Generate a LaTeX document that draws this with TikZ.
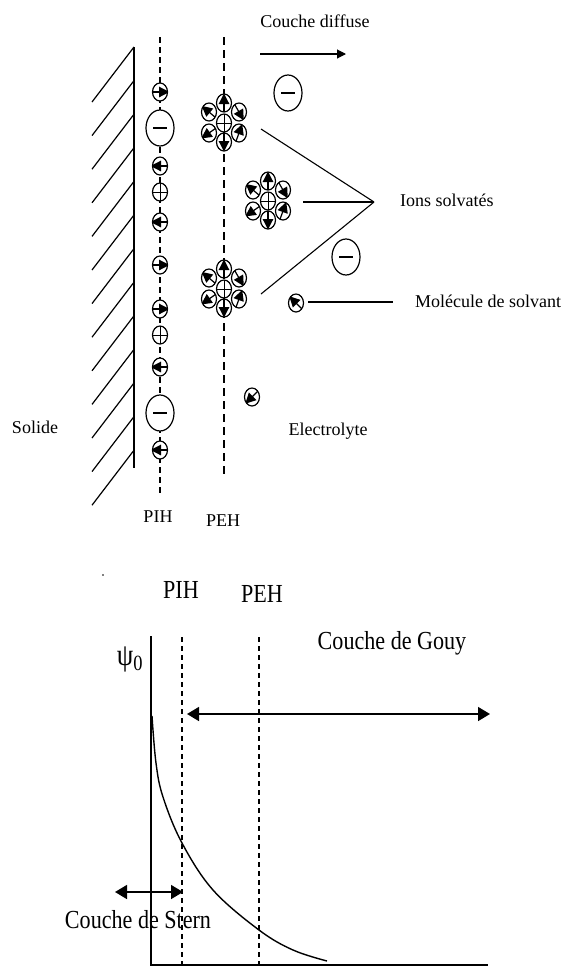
\documentclass[tikz,border=0pt]{standalone}
\usepackage{fontspec}
\setmainfont{Liberation Serif}
\usetikzlibrary{arrows.meta,shapes.geometric}

\tikzset{
  particle/.style={ellipse, draw, fill=white, line width=1.2pt, inner sep=0pt,
                   minimum width=15pt, minimum height=18pt},
  % a solvent dipole: shaft plus a filled head pointing at angle #1 (counter-clockwise on the page)
  dipole/.style={particle, path picture={
      \pgfmathsetmacro\dca{cos(#1)}
      \pgfmathsetmacro\dsa{sin(#1)}
      \begin{scope}[shift={(path picture bounding box.center)}]
        \draw[black, line width=1.2pt] ({-9*\dca},{9*\dsa}) -- (0,0);
        \fill[black] ({9.5*\dca},{-9.5*\dsa})
          -- ({-\dca-5.4*\dsa},{\dsa-5.4*\dca})
          -- ({-\dca+5.4*\dsa},{\dsa+5.4*\dca}) -- cycle;
      \end{scope}}},
  cation/.style={particle, path picture={
      \draw[black, line width=0.9pt]
        (path picture bounding box.north) -- (path picture bounding box.south)
        (path picture bounding box.west) -- (path picture bounding box.east);}},
  anion/.style={particle, minimum width=28pt, minimum height=36pt, path picture={
      \draw[black, line width=1.2pt] ([xshift=-7pt]path picture bounding box.center)
        -- ([xshift=7pt]path picture bounding box.center);}},
  cluster/.pic={
    \node[cation]     (-c)  at (0,0)     {};
    \node[dipole=90]  (-n)  at (0,-20)   {};
    \node[dipole=-90] (-s)  at (0,19)    {};
    \node[dipole=140] (-nw) at (-15,-11) {};
    \node[dipole=-60] (-ne) at (15,-11)  {};
    \node[dipole=215] (-sw) at (-15,10)  {};
    \node[dipole=70]  (-se) at (15,10)   {};
  },
  plane/.style={line width=1.1pt, dash pattern=on 6pt off 4pt},
  lead/.style={line width=1.1pt},
  lbl/.style={inner sep=0pt, font=\fontsize{18}{18}\selectfont},
  biglbl/.style={inner sep=0pt, font=\fontsize{26}{26}\selectfont},
  bigtip/.style={line width=1.6pt, {Triangle[length=12pt,width=14pt]}-{Triangle[length=12pt,width=14pt]}},
}
\newcommand{\narrow}[1]{\scalebox{0.85}[1]{#1}}

\begin{document}
\begin{tikzpicture}[x=1pt,y=-1pt]
\useasboundingbox (0,0) rectangle (564,967);

% ---------- solid wall with hatching ----------
\coordinate (wallT) at (134,47);
\coordinate (wallB) at (134,468);
\draw[line width=1.3pt] (wallT) -- (wallB);
\foreach \k in {0,...,12}{
  \draw[line width=1.2pt] (92,{102+33.6*\k}) -- (134,{47+33.6*\k});
}
\node[lbl] (solide) at (35,427) {Solide};

% ---------- inner and outer Helmholtz planes ----------
\coordinate (pihT) at (160,37);
\coordinate (pihB) at (160,493);
\coordinate (pehT) at (224,37);
\coordinate (pehB) at (224,478);
\draw[plane] (pihT) -- (pihB);
\draw[plane, dash pattern=on 8pt off 5pt] (pehT) -- (pehB);
\node[lbl] (pih) at (158,517) {PIH};
\node[lbl] (peh) at (223,521) {PEH};

% particles adsorbed on the inner plane
\node[dipole=0]   (m1) at (160,92)  {};
\node[anion]      (a1) at (160,128) {};
\node[dipole=180] (m2) at (160,166) {};
\node[cation]     (k1) at (160,192) {};
\node[dipole=180] (m3) at (160,222) {};
\node[dipole=0]   (m4) at (160,265) {};
\node[dipole=0]   (m5) at (160,309) {};
\node[cation]     (k2) at (160,335) {};
\node[dipole=180] (m6) at (160,367) {};
\node[anion]      (a2) at (160,413) {};
\node[dipole=180] (m7) at (160,450) {};

% solvated cations
\pic (c1) at (224,123) {cluster};
\pic (c2) at (268,201) {cluster};
\pic (c3) at (224,289) {cluster};

% diffuse layer species
\node[anion]      (a3) at (288,93)  {};
\node[anion]      (a4) at (346,257) {};
\node[dipole=135] (m8) at (296,303) {};
\node[dipole=225] (m9) at (252,397) {};

% labels and leader lines
\node[lbl] (diffuse) at (315,21) {Couche diffuse};
\coordinate (cdL) at (260,54);
\coordinate (cdR) at (346,54);
\draw[lead, -{Triangle[length=9pt,width=9pt]}] (cdL) -- (cdR);

\node[lbl, anchor=west] (ions) at (400,200) {Ions solvatés};
\coordinate (ionsPt) at (374,202);
\coordinate (c1lead) at (261,129);
\coordinate (c2lead) at (303,202);
\coordinate (c3lead) at (261,294);
\draw[lead] (c1lead) -- (ionsPt);
\draw[lead] (c2lead) -- (ionsPt);
\draw[lead] (c3lead) -- (ionsPt);

\node[lbl, anchor=west] (solvant) at (415,301) {Molécule de solvant};
\coordinate (m8lead) at (308,302);
\coordinate (solvPt) at (393,302);
\draw[lead] (m8lead) -- (solvPt);

\node[lbl] (electrolyte) at (328,431) {Electrolyte};

% ---------- potential profile ----------
\fill (103,575) circle (0.8);
\coordinate (origin) at (151,965);
\coordinate (yTop) at (151,636);
\coordinate (xEnd) at (488,965);
\draw[line width=1.7pt] (yTop) -- (origin) -- (xEnd);

\coordinate (pih2T) at (182,637);
\coordinate (pih2B) at (182,965);
\coordinate (peh2T) at (259,637);
\coordinate (peh2B) at (259,965);
\draw[line width=1.1pt, dash pattern=on 5pt off 4pt] (pih2T) -- (pih2B);
\draw[line width=1.1pt, dash pattern=on 5pt off 4pt] (peh2T) -- (peh2B);

\node[biglbl] (pihb) at (181,590) {\narrow{PIH}};
\node[biglbl] (pehb) at (262,594) {\narrow{PEH}};
\node[inner sep=0pt, font=\fontsize{31}{31}\selectfont] (psi) at (130,659)
  {\narrow{ψ\textsubscript{0}}};
\node[biglbl] (gouy) at (392,643) {\narrow{Couche de Gouy}};
\node[biglbl] (stern) at (138,920) {\narrow{Couche de Stern}};

\coordinate (gouyL) at (187,714);
\coordinate (gouyR) at (490,714);
\draw[bigtip] (gouyL) -- (gouyR);
\coordinate (sternL) at (115,892);
\coordinate (sternR) at (183,892);
\draw[bigtip] (sternL) -- (sternR);

\draw[line width=1.4pt] plot[smooth, tension=0.6] coordinates
  {(152,716) (156,763) (163,797) (182,843) (213,890) (259,930) (293,950) (327,961)};
\end{tikzpicture}
\end{document}
